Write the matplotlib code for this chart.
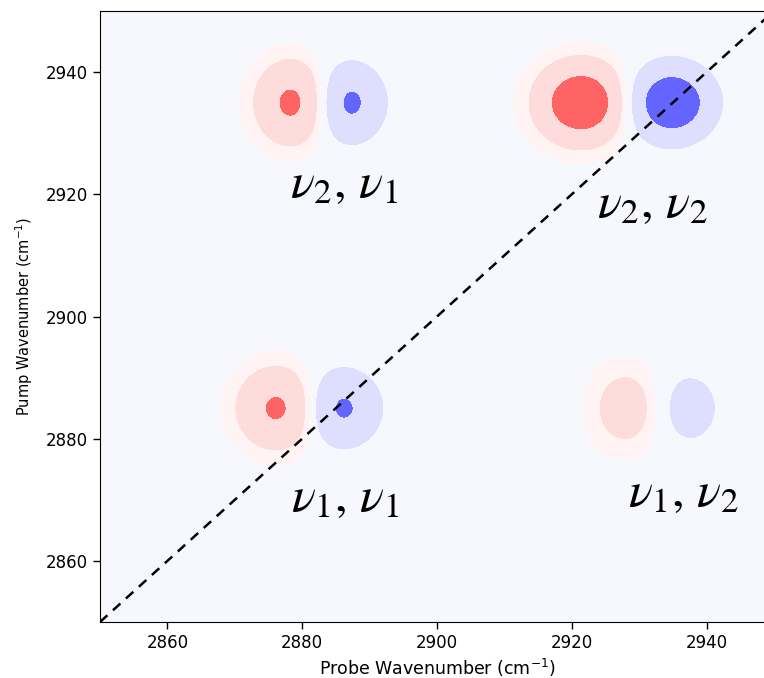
import numpy as np
import matplotlib
matplotlib.use("Agg")
import matplotlib.pyplot as plt
from matplotlib.colors import ListedColormap, BoundaryNorm

# Peak parameters (cm^-1)
peak_pump = [2935.0, 2935.0, 2885.0, 2885.0]
probe_red = [2878.5, 2921.4, 2876.4, 2928.0]
probe_blue = [2887.1, 2934.8, 2885.9, 2937.5]
amp_red = [0.67, 1.02, 0.65, 0.31]
amp_blue = [0.66, 1.02, 0.645, 0.31]
sig_x = [3.35, 4.0, 3.7, 3.25]
sig_y = [4.2, 4.0, 4.1, 4.3]

labels = [r"$\nu_2,\, \nu_1$", r"$\nu_2,\, \nu_2$", r"$\nu_1,\, \nu_1$", r"$\nu_1,\, \nu_2$"]
label_x = [2886.2, 2932.0, 2886.4, 2936.6]
label_y = [2921.8, 2918.6, 2870.5, 2871.3]

levels = [-10, -0.576, -0.157, 0.045, 0.157, 0.576, 10]
colors = ["#6464ff", "#dedeff", "#f7f8fe", "#fff3f3", "#ffdcdc", "#ff6464"]

x = np.linspace(2850, 2950, 500)
y = np.linspace(2850, 2950, 500)
X, Y = np.meshgrid(x, y)
Z = np.zeros_like(X)
for i in range(len(peak_pump)):
    gy = np.exp(-(Y - peak_pump[i]) ** 2 / (2 * sig_y[i] ** 2))
    Z += amp_red[i] * np.exp(-(X - probe_red[i]) ** 2 / (2 * sig_x[i] ** 2)) * gy
    Z -= amp_blue[i] * np.exp(-(X - probe_blue[i]) ** 2 / (2 * sig_x[i] ** 2)) * gy

fig = plt.figure(figsize=(7.64, 6.78), dpi=100)
ax = fig.add_axes([100 / 764, 56 / 678, 674 / 764, 611 / 678])
cmap = ListedColormap(colors)
norm = BoundaryNorm(levels, cmap.N)
ax.contourf(X, Y, Z, levels=levels, cmap=cmap, norm=norm)
ax.plot([2850, 2950], [2850, 2950], ls="--", color="black", lw=1.8, dashes=(4, 3))

plt.rcParams["mathtext.fontset"] = "stix"
for t, lx, ly in zip(labels, label_x, label_y):
    ax.text(lx, ly, t, fontsize=36, ha="center", va="center")

ax.set_xlim(2850, 2950)
ax.set_ylim(2850, 2950)
ax.set_xticks([2860, 2880, 2900, 2920, 2940])
ax.set_yticks([2860, 2880, 2900, 2920, 2940])
ax.tick_params(labelsize=12, length=5, width=1)
ax.set_xlabel(r"Probe Wavenumber (cm$^{-1}$)", fontsize=12.5, labelpad=4)
ax.set_ylabel(r"Pump Wavenumber (cm$^{-1}$)", fontsize=10.5, labelpad=8)

fig.savefig("out.png", dpi=100)
